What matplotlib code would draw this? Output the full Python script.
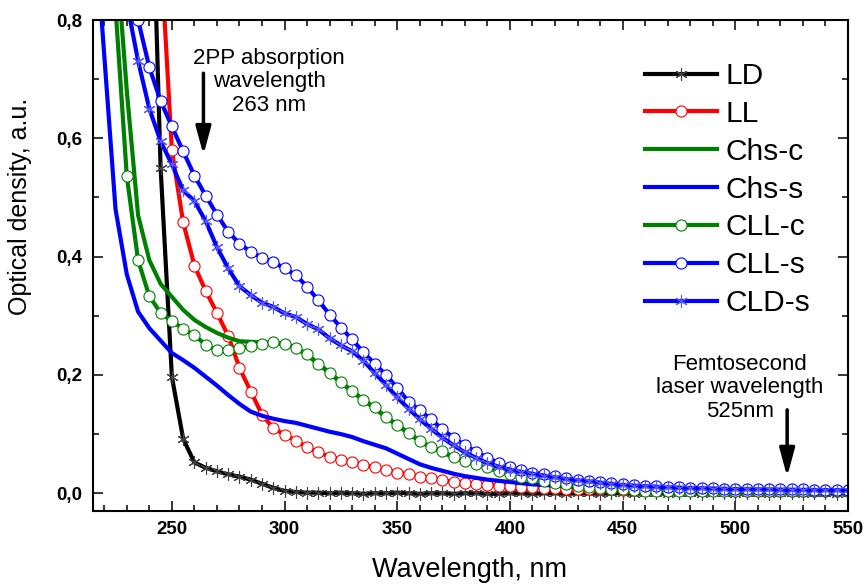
import numpy as np
import matplotlib
matplotlib.use('Agg')
import matplotlib.pyplot as plt
from matplotlib.ticker import MultipleLocator, FuncFormatter

plt.rcParams['font.family'] = ['Liberation Sans', 'DejaVu Sans']

# -------------------------------
# data, 5 nm step
# -------------------------------
wavelength = np.arange(215, 555, 5)

ld = [8.0, 7.0, 6.0, 4.6, 3.0, 1.2, 0.55, 0.197, 0.092, 0.052,
      0.043, 0.037, 0.032, 0.028, 0.023, 0.016, 0.009, 0.004, 0.002, 0.001,
      0.001, 0.000, 0.001, 0.000, -0.001, 0.000, 0.000, 0.001, 0.000, -0.001,
      0.000, 0.000, -0.001, 0.000, 0.000, -0.001, -0.001, 0.000, 0.000, -0.001,
      0.000, 0.000, -0.001, 0.000, 0.000, -0.001, 0.000, 0.000, -0.001, 0.000,
      0.000, -0.001, 0.000, 0.000, -0.001, 0.000, 0.000, -0.001, 0.000, 0.000,
      -0.001, 0.000, 0.000, -0.001, 0.000, 0.000, -0.001, 0.000]

ll = [3.0, 2.6, 2.2, 1.8, 1.45, 1.15, 0.92, 0.58, 0.458, 0.385,
      0.342, 0.305, 0.266, 0.212, 0.172, 0.133, 0.110, 0.099, 0.089, 0.078,
      0.069, 0.062, 0.057, 0.053, 0.048, 0.044, 0.039, 0.035, 0.032, 0.028,
      0.025, 0.022, 0.019, 0.017, 0.015, 0.014, 0.013, 0.012, 0.011, 0.010,
      0.009, 0.0085, 0.008, 0.0075, 0.007, 0.0068, 0.0065, 0.0062, 0.006, 0.0058,
      0.0056, 0.0054, 0.0052, 0.005, 0.005, 0.0048, 0.0047, 0.0046, 0.0045, 0.0044,
      0.0043, 0.0042, 0.0041, 0.004, 0.004, 0.004, 0.004, 0.004]

chs_c = [1.6, 1.25, 0.93, 0.68, 0.47, 0.394, 0.354, 0.332, 0.31, 0.293,
         0.281, 0.271, 0.263, 0.257, 0.256, 0.255, 0.254, 0.252, 0.245, 0.234,
         0.218, 0.203, 0.187, 0.172, 0.157, 0.144, 0.128, 0.115, 0.101, 0.088,
         0.077, 0.070, 0.060, 0.054, 0.049, 0.043, 0.037, 0.032, 0.027, 0.024,
         0.020, 0.017, 0.014, 0.012, 0.010, 0.009, 0.007, 0.006, 0.005, 0.004,
         0.0038, 0.0036, 0.0035, 0.0034, 0.0033, 0.0032, 0.0031, 0.003, 0.003, 0.003,
         0.003, 0.003, 0.003, 0.003, 0.003, 0.003, 0.003, 0.003]

chs_s = [1.0, 0.74, 0.48, 0.37, 0.307, 0.279, 0.258, 0.237, 0.225, 0.212,
         0.197, 0.182, 0.166, 0.151, 0.138, 0.131, 0.126, 0.122, 0.119, 0.114,
         0.109, 0.104, 0.100, 0.095, 0.088, 0.082, 0.076, 0.067, 0.058, 0.049,
         0.043, 0.038, 0.033, 0.029, 0.026, 0.023, 0.021, 0.019, 0.017, 0.015,
         0.014, 0.013, 0.012, 0.011, 0.010, 0.0095, 0.009, 0.0085, 0.008, 0.0078,
         0.0075, 0.0072, 0.007, 0.0068, 0.0066, 0.0064, 0.0062, 0.006, 0.0058, 0.0056,
         0.0054, 0.0052, 0.005, 0.005, 0.0048, 0.0047, 0.0046, 0.0045]

cll_c = [1.45, 1.12, 0.82, 0.536, 0.394, 0.333, 0.305, 0.291, 0.278, 0.267,
         0.251, 0.242, 0.242, 0.245, 0.249, 0.253, 0.255, 0.253, 0.246, 0.235,
         0.219, 0.204, 0.188, 0.173, 0.158, 0.145, 0.129, 0.116, 0.102, 0.089,
         0.078, 0.071, 0.061, 0.055, 0.050, 0.044, 0.038, 0.033, 0.028, 0.025,
         0.021, 0.018, 0.015, 0.013, 0.011, 0.009, 0.008, 0.007, 0.0055, 0.0045,
         0.004, 0.0038, 0.0036, 0.0035, 0.0034, 0.0033, 0.0032, 0.0031, 0.003, 0.003,
         0.003, 0.003, 0.003, 0.003, 0.003, 0.003, 0.003, 0.003]

cll_s = [1.3, 1.15, 1.0, 0.9, 0.80, 0.72, 0.663, 0.62, 0.578, 0.537,
         0.503, 0.471, 0.442, 0.422, 0.408, 0.398, 0.391, 0.380, 0.369, 0.349,
         0.326, 0.302, 0.280, 0.260, 0.238, 0.219, 0.200, 0.178, 0.155, 0.140,
         0.125, 0.108, 0.094, 0.081, 0.070, 0.060, 0.051, 0.044, 0.039, 0.035,
         0.032, 0.029, 0.026, 0.023, 0.021, 0.019, 0.017, 0.015, 0.014, 0.013,
         0.012, 0.011, 0.010, 0.0095, 0.009, 0.0085, 0.008, 0.0078, 0.0075, 0.0072,
         0.007, 0.0068, 0.0066, 0.0064, 0.0062, 0.006, 0.006, 0.006]

cld_s = [1.5, 1.2, 0.98, 0.83, 0.731, 0.65, 0.595, 0.556, 0.512, 0.494,
         0.46, 0.416, 0.38, 0.350, 0.335, 0.322, 0.315, 0.304, 0.298, 0.286,
         0.277, 0.262, 0.250, 0.240, 0.224, 0.203, 0.183, 0.162, 0.143, 0.125,
         0.109, 0.094, 0.081, 0.069, 0.060, 0.051, 0.045, 0.040, 0.036, 0.033,
         0.030, 0.027, 0.024, 0.022, 0.020, 0.018, 0.016, 0.014, 0.013, 0.012,
         0.011, 0.010, 0.0095, 0.009, 0.0085, 0.008, 0.0075, 0.007, 0.0068, 0.0066,
         0.0064, 0.0062, 0.006, 0.0058, 0.0056, 0.0054, 0.0052, 0.005]

labels = ['LD', 'LL', 'Chs-c', 'Chs-s', 'CLL-c', 'CLL-s', 'CLD-s']

# -------------------------------
# figure
# -------------------------------
W, H = 866, 585
fig = plt.figure(figsize=(W / 100, H / 100), dpi=100)
ax = fig.add_axes([93 / W, 1 - 511 / H, (848 - 93) / W, (511 - 20) / H])

lw = 3
star = (6, 2, 0)
ax.plot(wavelength, ld, color='black', lw=lw, marker=star, ms=9,
        mec='#404040', mew=0.8, label=labels[0])
ax.plot(wavelength, ll, color='red', lw=lw, marker='o', ms=8,
        mfc='white', mec='red', mew=0.8, label=labels[1])
ax.plot(wavelength, chs_c, color='#008000', lw=lw, label=labels[2])
ax.plot(wavelength, chs_s, color='blue', lw=lw, label=labels[3])
ax.plot(wavelength, cll_c, color='#008000', lw=lw, marker='o', ms=8,
        mfc='white', mec='#008000', mew=0.8, label=labels[4])
ax.plot(wavelength, cll_s, color='blue', lw=lw, marker='o', ms=8,
        mfc='white', mec='blue', mew=0.8, label=labels[5])
ax.plot(wavelength, cld_s, color='blue', lw=lw, marker=star, ms=9,
        mec='#5555ff', mew=0.8, label=labels[6])

ax.set_xlim(215, 550)
ax.set_ylim(-0.03, 0.8)

ax.xaxis.set_major_locator(MultipleLocator(50))
ax.xaxis.set_minor_locator(MultipleLocator(10))
ax.yaxis.set_major_locator(MultipleLocator(0.2))
ax.yaxis.set_minor_locator(MultipleLocator(0.1))
ax.yaxis.set_major_formatter(FuncFormatter(lambda v, p: f'{v:.1f}'.replace('.', ',')))

ax.tick_params(which='both', direction='in', top=True, right=True, width=1.1)
ax.tick_params(which='major', length=7)
ax.tick_params(which='minor', length=4.5)
ax.tick_params(axis='x', pad=7)
ax.tick_params(axis='y', pad=8)
for lab in ax.get_xticklabels() + ax.get_yticklabels():
    lab.set_fontsize(13.5)
    lab.set_fontweight('bold')
for sp in ax.spines.values():
    sp.set_linewidth(1.5)

fig.text(470 / W, 1 - 570 / H, 'Wavelength, nm', ha='center', va='center', fontsize=19.5)
fig.text(20 / W, 1 - 206 / H, 'Optical density, a.u.', ha='center', va='center',
         rotation=90, fontsize=18)

# -------------------------------
# annotations
# -------------------------------
arrow = dict(arrowstyle='-|>,head_length=0.85,head_width=0.23', color='black',
             lw=2.5, mutation_scale=20, shrinkA=0, shrinkB=0)
ax.annotate('', xy=(264, 0.572), xytext=(264, 0.71), arrowprops=arrow)
ax.annotate('', xy=(523, 0.028), xytext=(523, 0.141), arrowprops=arrow)

fig.text(269 / W, 1 - 82 / H, '2PP absorption\nwavelength\n263 nm', ha='center',
         va='center', multialignment='center', fontsize=16, linespacing=1.15)
fig.text(740 / W, 1 - 388 / H, 'Femtosecond\nlaser wavelength\n525nm', ha='center',
         va='center', multialignment='center', fontsize=16, linespacing=1.15)

ax.legend(loc='upper left', bbox_to_anchor=(645 / W, 1 - 62 / H),
          bbox_transform=fig.transFigure, frameon=False, fontsize=21.5,
          handlelength=2.4, handletextpad=0.28, labelspacing=0.33,
          borderpad=0, borderaxespad=0, numpoints=1)

fig.savefig('out.png', dpi=100)
